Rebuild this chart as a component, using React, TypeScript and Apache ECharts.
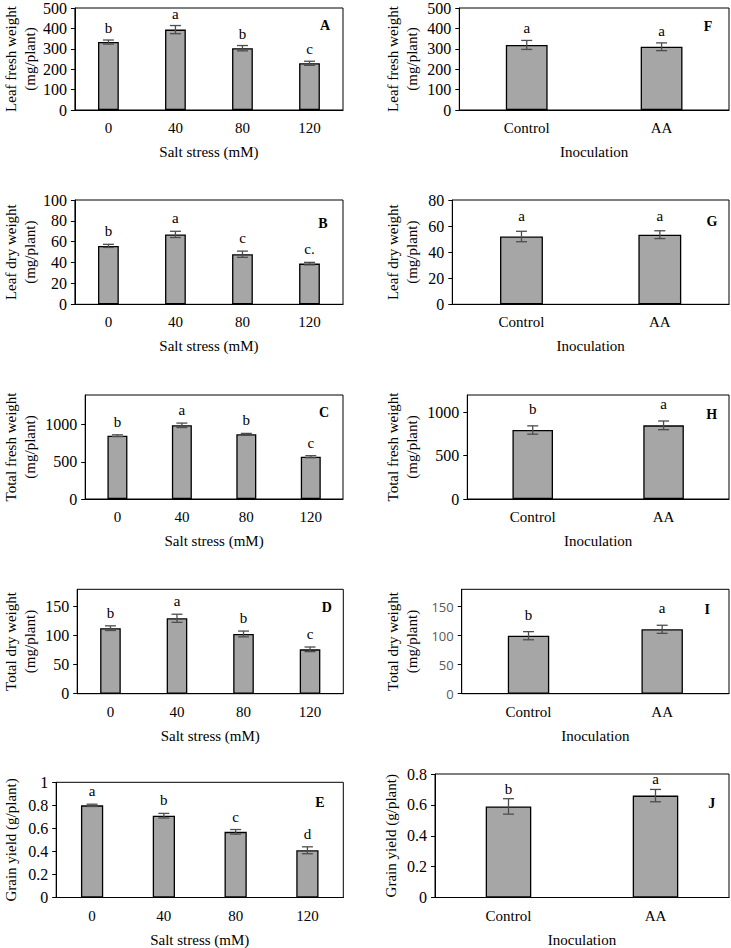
import React, { useEffect, useRef } from "react";
import * as echarts from "echarts";

// ---- data ----
const saltCategories = ["0", "40", "80", "120"];
const inocCategories = ["Control", "AA"];

const leafFreshSalt = [333, 394, 303, 229];
const leafFreshSaltErr = [10, 20, 13, 10];
const leafFreshSaltLetters = ["b", "a", "b", "c"];

const leafDrySalt = [56, 67, 48, 39];
const leafDrySaltErr = [1.5, 3, 3, 1.2];
const leafDrySaltLetters = ["b", "a", "c", "c."];

const totalFreshSalt = [852, 992, 871, 569];
const totalFreshSaltErr = [12, 30, 12, 14];
const totalFreshSaltLetters = ["b", "a", "b", "c"];

const totalDrySalt = [113, 130, 103, 76.5];
const totalDrySaltErr = [4, 7, 5, 4];
const totalDrySaltLetters = ["b", "a", "b", "c"];

const grainSalt = [0.8, 0.71, 0.57, 0.41];
const grainSaltErr = [0.01, 0.02, 0.02, 0.03];
const grainSaltLetters = ["a", "b", "c", "d"];

const leafFreshInoc = [319, 310];
const leafFreshInocErr = [22, 19];
const leafFreshInocLetters = ["a", "a"];

const leafDryInoc = [52, 53.4];
const leafDryInocErr = [4, 3];
const leafDryInocLetters = ["a", "a"];

const totalFreshInoc = [796, 850];
const totalFreshInocErr = [48, 50];
const totalFreshInocLetters = ["b", "a"];

const totalDryInoc = [100, 111];
const totalDryInocErr = [7, 7];
const totalDryInocLetters = ["b", "a"];

const grainInoc = [0.59, 0.66];
const grainInocErr = [0.05, 0.04];
const grainInocLetters = ["b", "a"];

const saltTitle = "Salt stress (mM)";
const inocTitle = "Inoculation";

// ---- panel definitions (layout in px) ----
type Panel = {
  tag: string;
  cats: string[];
  vals: number[];
  errs: number[];
  letters: string[];
  xName: string;
  yName: string;
  max: number;
  interval: number;
  left: number;
  top: number;
  width: number;
  height: number;
  nameEdge: number;
  tagX: number;
  tagY: number;
  letterOff: number;
  sansTicks?: boolean;
};

const panels: Panel[] = [
  { tag: "A", cats: saltCategories, vals: leafFreshSalt, errs: leafFreshSaltErr, letters: leafFreshSaltLetters, xName: saltTitle, yName: "Leaf fresh weight\n(mg/plant)", max: 500, interval: 100, left: 69, top: 5.3, width: 274, height: 104.7, nameEdge: 35.5, tagX: 325, tagY: 25, letterOff: 12 },
  { tag: "F", cats: inocCategories, vals: leafFreshInoc, errs: leafFreshInocErr, letters: leafFreshInocLetters, xName: inocTitle, yName: "Leaf fresh weight\n(mg/plant)", max: 500, interval: 100, left: 459.3, top: 5.3, width: 269.7, height: 104.7, nameEdge: 421.5, tagX: 708, tagY: 26, letterOff: 12 },
  { tag: "B", cats: saltCategories, vals: leafDrySalt, errs: leafDrySaltErr, letters: leafDrySaltLetters, xName: saltTitle, yName: "Leaf dry weight\n(mg/plant)", max: 100, interval: 20, left: 69, top: 200, width: 274, height: 104.3, nameEdge: 35.5, tagX: 323, tagY: 223, letterOff: 13 },
  { tag: "G", cats: inocCategories, vals: leafDryInoc, errs: leafDryInocErr, letters: leafDryInocLetters, xName: inocTitle, yName: "Leaf dry weight\n(mg/plant)", max: 80, interval: 20, left: 452.3, top: 200, width: 276.7, height: 104.3, nameEdge: 421.5, tagX: 712, tagY: 221, letterOff: 15 },
  { tag: "C", cats: saltCategories, vals: totalFreshSalt, errs: totalFreshSaltErr, letters: totalFreshSaltLetters, xName: saltTitle, yName: "Total fresh weight\n(mg/plant)", max: 1400, interval: 500, left: 80.7, top: 395, width: 262.3, height: 104, nameEdge: 34.5, tagX: 324, tagY: 412, letterOff: 13 },
  { tag: "H", cats: inocCategories, vals: totalFreshInoc, errs: totalFreshInocErr, letters: totalFreshInocLetters, xName: inocTitle, yName: "Total fresh weight\n(mg/plant)", max: 1200, interval: 500, left: 467.3, top: 395, width: 261.7, height: 104, nameEdge: 421.5, tagX: 711.7, tagY: 414.7, letterOff: 17 },
  { tag: "D", cats: saltCategories, vals: totalDrySalt, errs: totalDrySaltErr, letters: totalDrySaltLetters, xName: saltTitle, yName: "Total dry weight\n(mg/plant)", max: 180, interval: 50, left: 72.7, top: 589.3, width: 270.6, height: 104.4, nameEdge: 34.5, tagX: 326.7, tagY: 607.3, letterOff: 13 },
  { tag: "I", cats: inocCategories, vals: totalDryInoc, errs: totalDryInocErr, letters: totalDryInocLetters, xName: inocTitle, yName: "Total dry weight\n(mg/plant)", max: 180, interval: 50, left: 461.7, top: 589.3, width: 267.3, height: 104.4, nameEdge: 421.5, tagX: 707.3, tagY: 609.3, letterOff: 17, sansTicks: true },
  { tag: "E", cats: saltCategories, vals: grainSalt, errs: grainSaltErr, letters: grainSaltLetters, xName: saltTitle, yName: "Grain yield (g/plant)", max: 1, interval: 0.2, left: 50.7, top: 782.3, width: 292.6, height: 116, nameEdge: 14.5, tagX: 320, tagY: 802.3, letterOff: 13 },
  { tag: "J", cats: inocCategories, vals: grainInoc, errs: grainInocErr, letters: grainInocLetters, xName: inocTitle, yName: "Grain yield (g/plant)", max: 0.8, interval: 0.2, left: 435, top: 774, width: 294, height: 128.3, nameEdge: 400.5, tagX: 711.7, tagY: 803.7, letterOff: 10 },
];

const SERIF = '"Liberation Serif", "Times New Roman", serif';

const fmt = (v: number) => String(+Number(v).toFixed(6));

function buildOption() {
  const grid: any[] = [];
  const xAxis: any[] = [];
  const yAxis: any[] = [];
  const series: any[] = [];
  const graphic: any[] = [];

  panels.forEach((p, k) => {
    const maxIsTick = Math.abs(p.max / p.interval - Math.round(p.max / p.interval)) < 1e-9;
    grid.push({
      left: p.left,
      top: p.top,
      width: p.width,
      height: p.height,
      show: true,
      borderColor: "#000",
      borderWidth: 1,
      containLabel: false,
    });
    xAxis.push({
      type: "category",
      gridIndex: k,
      data: p.cats,
      name: p.xName,
      nameLocation: "middle",
      nameGap: 34.5,
      nameTextStyle: { fontFamily: SERIF, fontSize: 15, color: "#000" },
      axisLine: { show: true, lineStyle: { color: "#000", width: 1.2 } },
      axisTick: { show: false },
      axisLabel: { margin: 10.5, fontFamily: SERIF, fontSize: 15, color: "#000" },
      splitLine: { show: false },
    });
    yAxis.push({
      type: "value",
      gridIndex: k,
      min: 0,
      max: p.max,
      interval: p.interval,
      name: p.yName,
      nameLocation: "middle",
      nameRotate: 90,
      nameGap: p.left - p.nameEdge,
      nameTextStyle: { fontFamily: SERIF, fontSize: 15, color: "#000", lineHeight: 19 },
      axisLine: { show: true, lineStyle: { color: "#000", width: 1 } },
      axisTick: { show: true, length: 4, inside: false, lineStyle: { color: "#000" } },
      axisLabel: p.sansTicks
        ? { margin: 8, fontFamily: '"Open Sans", sans-serif', fontSize: 13, color: "#595959", showMaxLabel: maxIsTick, formatter: fmt }
        : { margin: 8, fontFamily: SERIF, fontSize: 16, color: "#000", showMaxLabel: maxIsTick, formatter: fmt },
      splitLine: { show: false },
    });
    series.push({
      type: "bar",
      xAxisIndex: k,
      yAxisIndex: k,
      data: p.vals,
      barWidth: "31%",
      itemStyle: { color: "#a6a6a6", borderColor: "#000", borderWidth: 1.3 },
      silent: true,
    });
    const letters = p.letters;
    const off = p.letterOff;
    series.push({
      type: "custom",
      xAxisIndex: k,
      yAxisIndex: k,
      data: p.vals.map((v, i) => [i, v, p.errs[i]]),
      encode: { x: 0, y: 1 },
      z: 5,
      silent: true,
      renderItem: (params: any, api: any) => {
        const i = api.value(0);
        const v = api.value(1);
        const e = api.value(2);
        const hi = api.coord([i, v + e]);
        const lo = api.coord([i, v - e]);
        const half = 5.5;
        const st = { stroke: "#4d4d4d", lineWidth: 1.3 };
        return {
          type: "group",
          children: [
            { type: "line", shape: { x1: hi[0], y1: hi[1], x2: lo[0], y2: lo[1] }, style: st },
            { type: "line", shape: { x1: hi[0] - half, y1: hi[1], x2: hi[0] + half, y2: hi[1] }, style: st },
            { type: "line", shape: { x1: lo[0] - half, y1: lo[1], x2: lo[0] + half, y2: lo[1] }, style: st },
            {
              type: "text",
              style: {
                text: letters[params.dataIndex],
                x: hi[0],
                y: hi[1] - off,
                align: "center",
                verticalAlign: "middle",
                textAlign: "center",
                textVerticalAlign: "middle",
                fontFamily: SERIF,
                fontSize: 15,
                fill: "#000",
              },
            },
          ],
        };
      },
    });
    graphic.push({
      type: "text",
      x: p.tagX,
      y: p.tagY,
      style: {
        text: p.tag,
        fontFamily: SERIF,
        fontSize: 14,
        fontWeight: "bold",
        fill: "#000",
        align: "center",
        verticalAlign: "middle",
      },
    });
  });

  return {
    animation: false,
    backgroundColor: "#fff",
    grid,
    xAxis,
    yAxis,
    series,
    graphic,
  };
}

export default function App() {
  const ref = useRef<HTMLDivElement>(null);
  useEffect(() => {
    if (!ref.current) return;
    const chart = echarts.init(ref.current, null, { renderer: "svg" });
    chart.setOption(buildOption() as any);
    return () => chart.dispose();
  }, []);
  return (
    <div
      ref={ref}
      style={{ position: "absolute", left: 0, top: 0, width: 731, height: 948, background: "#fff" }}
    />
  );
}
